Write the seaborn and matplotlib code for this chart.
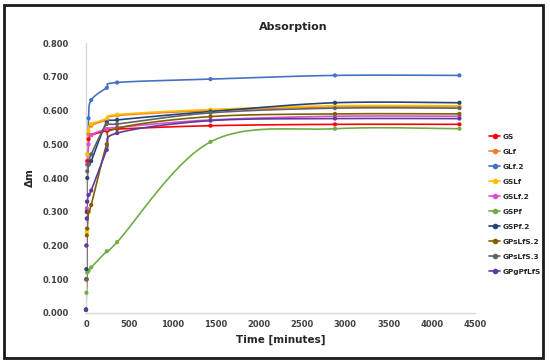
import numpy as np
import pandas as pd
import matplotlib
matplotlib.use("Agg")
import matplotlib.pyplot as plt
from matplotlib.lines import Line2D
from matplotlib.patches import Rectangle
import seaborn as sns

# time points (minutes)
time_min = [0, 5, 10, 15, 30, 60, 240, 360, 1440, 2880, 4320]

series_names = ["GS", "GLf", "GLf.2", "GSLf", "GSLf.2", "GSPf", "GSPf.2",
                "GPsLfS.2", "GPsLfS.3", "GPgPfLfS"]

gs = [0.010, 0.100, 0.300, 0.450, 0.515, 0.527, 0.540, 0.545, 0.555, 0.559, 0.559]
glf = [0.010, 0.100, 0.250, 0.470, 0.530, 0.555, 0.572, 0.585, 0.600, 0.611, 0.611]
glf2 = [0.010, 0.100, 0.330, 0.440, 0.577, 0.631, 0.667, 0.683, 0.693, 0.704, 0.704]
gslf = [0.010, 0.130, 0.240, 0.470, 0.540, 0.560, 0.575, 0.588, 0.603, 0.614, 0.614]
gslf2 = [0.010, 0.200, 0.310, 0.440, 0.500, 0.527, 0.545, 0.550, 0.572, 0.583, 0.583]
gspf = [0.010, 0.060, 0.100, 0.120, 0.125, 0.135, 0.183, 0.210, 0.507, 0.546, 0.546]
gspf2 = [0.010, 0.130, 0.300, 0.400, 0.440, 0.450, 0.565, 0.572, 0.597, 0.623, 0.623]
gpslfs2 = [0.010, 0.100, 0.230, 0.250, 0.300, 0.320, 0.500, 0.547, 0.582, 0.590, 0.590]
gpslfs3 = [0.010, 0.100, 0.280, 0.420, 0.440, 0.470, 0.560, 0.560, 0.593, 0.607, 0.607]
gpgpflfs = [0.010, 0.200, 0.280, 0.330, 0.350, 0.363, 0.483, 0.533, 0.570, 0.576, 0.576]

series_values = [gs, glf, glf2, gslf, gslf2, gspf, gspf2, gpslfs2, gpslfs3, gpgpflfs]

colors = ["#FF0000", "#ED7D31", "#4472C4", "#FFC000", "#D94FD0", "#70AD47",
          "#264478", "#7F6000", "#636363", "#5E3A9E"]

x_ticks = list(range(0, 5000, 500))
y_ticks = [0.0, 0.1, 0.2, 0.3, 0.4, 0.5, 0.6, 0.7, 0.8]


def smooth(x, y, sx, sy, n=30):
    # Excel-like smoothed line: Bezier segments built in screen space
    px = np.asarray(x, float) * sx
    py = np.asarray(y, float) * sy
    pts = np.column_stack([px, py])
    pts = np.vstack([pts[0], pts, pts[-1]])
    out = []
    t = np.linspace(0, 1, n)[:, None]
    for i in range(1, len(pts) - 2):
        p0, p1, p2, p3 = pts[i - 1], pts[i], pts[i + 1], pts[i + 2]
        c1 = p1 + (p2 - p0) / 6
        c2 = p2 - (p3 - p1) / 6
        seg = ((1 - t) ** 3) * p1 + 3 * ((1 - t) ** 2) * t * c1 + 3 * (1 - t) * t ** 2 * c2 + t ** 3 * p2
        out.append(seg if i == 1 else seg[1:])
    out = np.vstack(out)
    return out[:, 0] / sx, out[:, 1] / sy


sns.set_theme(style="white")
plt.rcParams['font.family'] = ['DejaVu Sans']

fig = plt.figure(figsize=(5.5, 3.63), dpi=100)
ax = fig.add_axes([86 / 550, 1 - 313 / 363, 389 / 550, 270 / 363])

sx = 389 / 4500
sy = 270 / 0.8

curve_rows = []
point_rows = []
for name, vals in zip(series_names, series_values):
    cx, cy = smooth(time_min, vals, sx, sy)
    for a, b in zip(cx, cy):
        curve_rows.append((name, a, b))
    for a, b in zip(time_min, vals):
        point_rows.append((name, a, b))
curves = pd.DataFrame(curve_rows, columns=["series", "t", "v"])
points = pd.DataFrame(point_rows, columns=["series", "t", "v"])
palette = dict(zip(series_names, colors))

sns.lineplot(data=curves, x="t", y="v", hue="series", palette=palette, sort=False,
             estimator=None, legend=False, linewidth=1.2, ax=ax)
sns.scatterplot(data=points, x="t", y="v", hue="series", palette=palette, s=9,
                linewidth=0, legend=False, ax=ax, clip_on=False, zorder=3)

ax.set_xlim(0, 4500)
ax.set_ylim(0, 0.8)
ax.set_xticks(x_ticks)
ax.set_yticks(y_ticks)
ax.set_xticklabels([str(v) for v in x_ticks], fontsize=6, fontweight="bold", color="#404040")
ax.set_yticklabels([f"{v:.3f}" for v in y_ticks], fontsize=6, fontweight="bold", color="#404040")
ax.tick_params(axis="both", length=0)
ax.tick_params(axis="y", pad=12)
ax.tick_params(axis="x", pad=5)
for side in ["top", "right"]:
    ax.spines[side].set_visible(False)
for side in ["left", "bottom"]:
    ax.spines[side].set_color("#D9D9D9")
    ax.spines[side].set_linewidth(1)
ax.set_xlabel("Time [minutes]", fontsize=7.5, fontweight="bold", color="#262626", labelpad=4)
ax.set_ylabel("Δm", fontsize=7.5, fontweight="bold", color="#262626", labelpad=6)

fig.text(293 / 550, 1 - 27 / 363, "Absorption", ha="center", va="center",
         fontsize=8, fontweight="bold", color="#262626")

handles = [Line2D([0], [0], color=c, lw=1.2, marker="o", markersize=3) for c in colors]
fig.legend(handles, series_names, loc="upper left", bbox_to_anchor=(482 / 550, 1 - 127 / 363),
           frameon=False, handlelength=1.6, handletextpad=0.35,
           labelspacing=1.2, prop={"weight": "bold", "size": 5.3})

fig.patches.append(Rectangle((4 / 550, 5 / 363), 539 / 550, 353 / 363, transform=fig.transFigure,
                             fill=False, edgecolor="#1a1a1a", linewidth=2))

fig.savefig("out.png", dpi=100)
